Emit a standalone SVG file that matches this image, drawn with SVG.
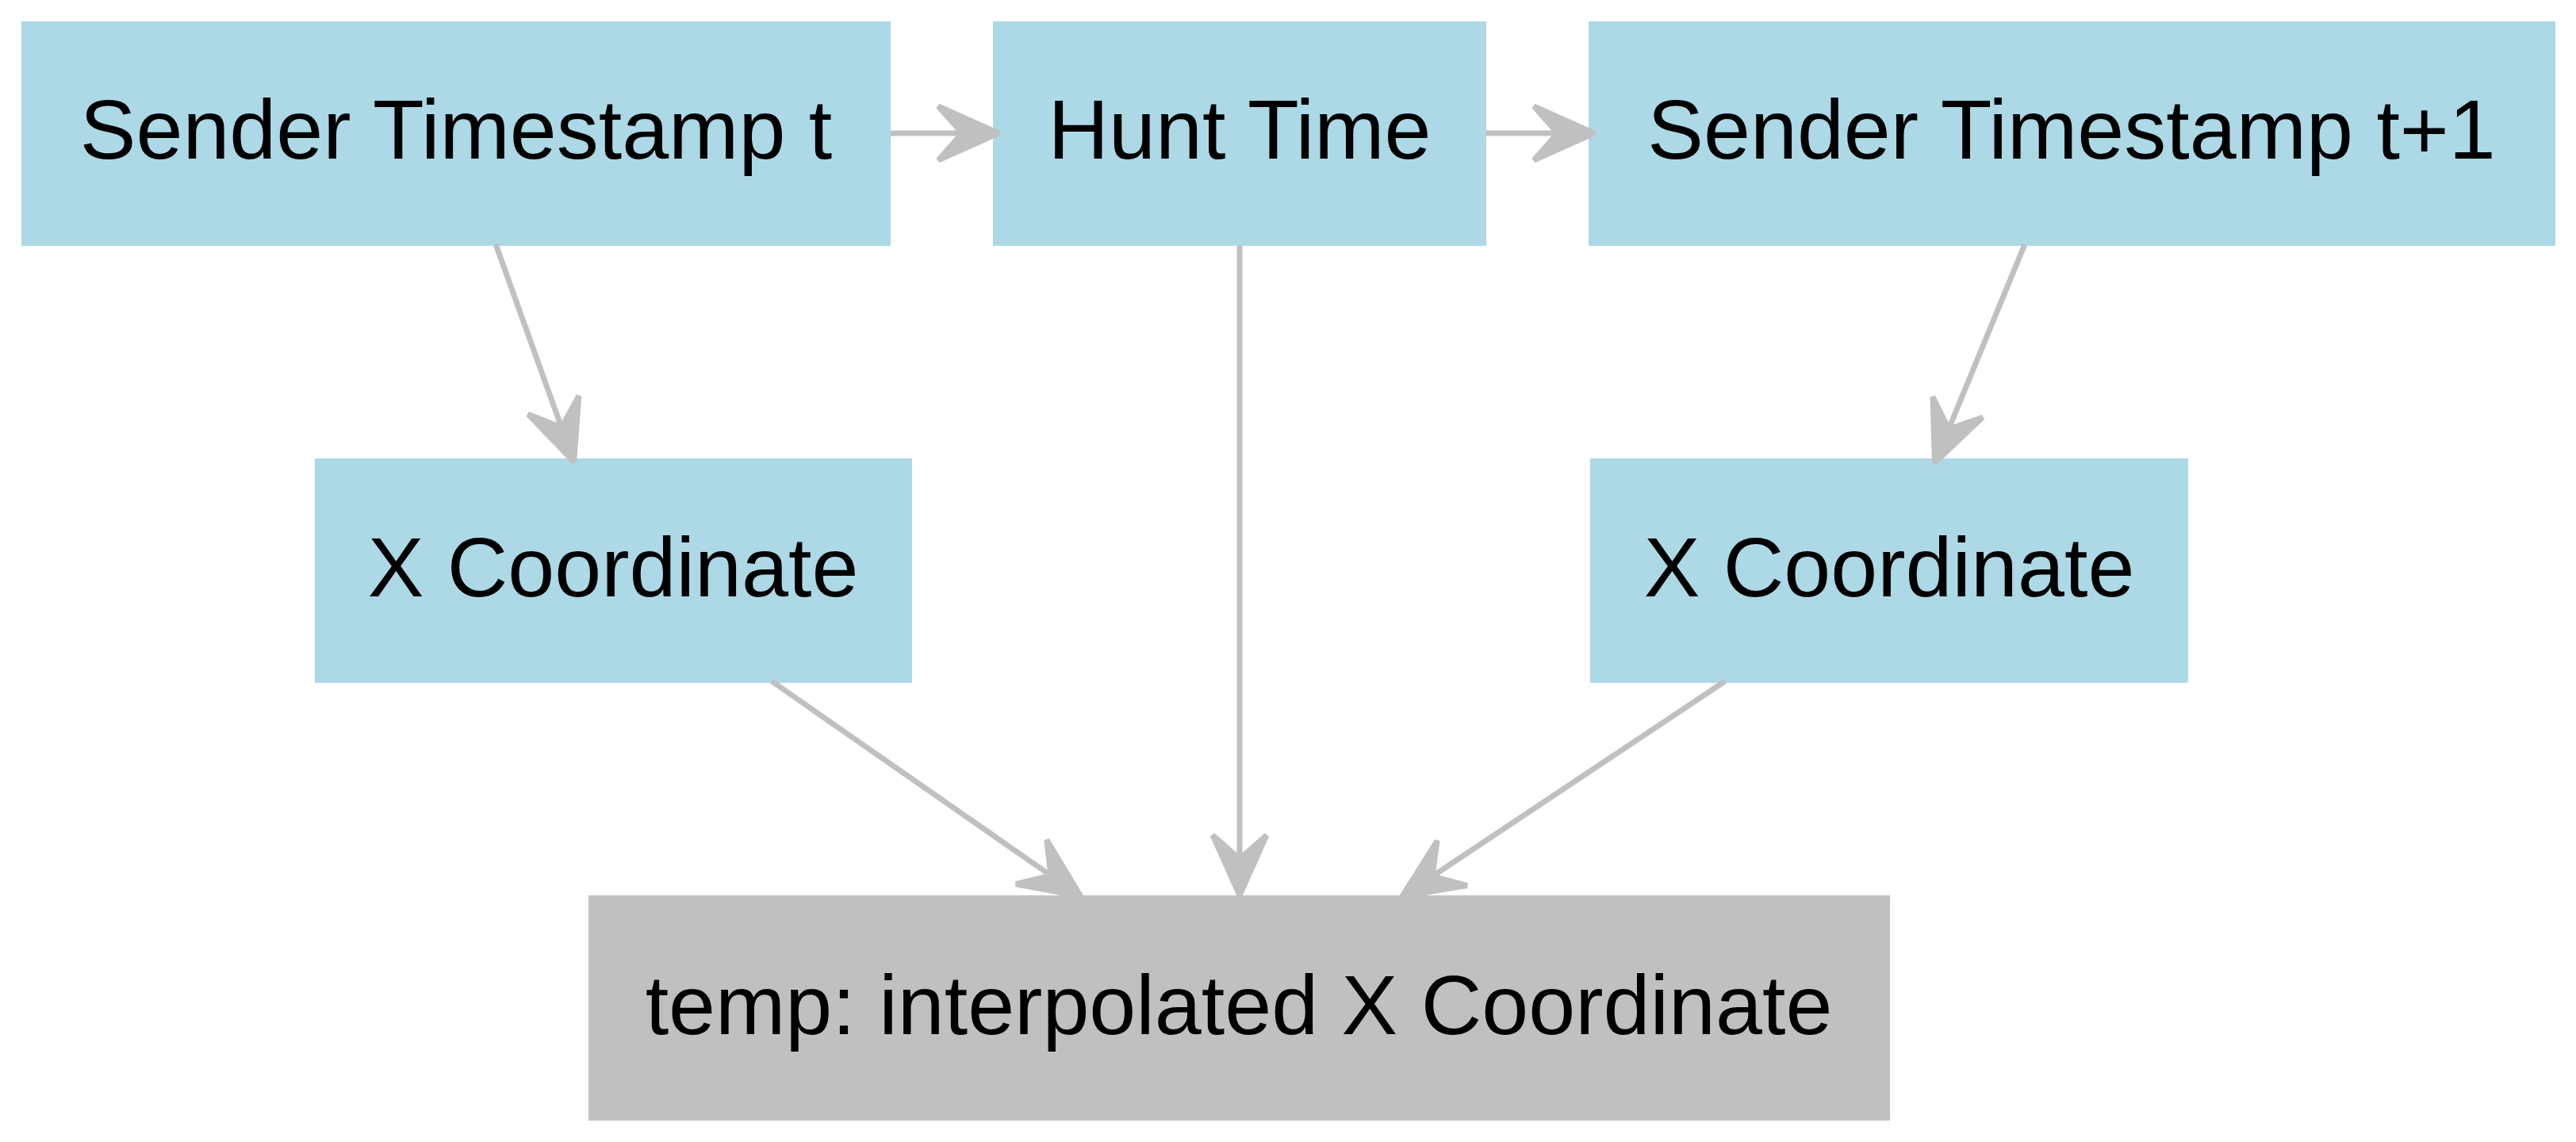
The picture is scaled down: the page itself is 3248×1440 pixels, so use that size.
<svg xmlns="http://www.w3.org/2000/svg" width="3248" height="1440" viewBox="0 0 3248 1440">
  <style>
    .blue { fill: #ADD8E6; }
    .gray { fill: #C0C0C0; }
    .lbl { font-family: "Liberation Sans", Arial, Helvetica, sans-serif; font-size: 106px; fill: #000000; text-anchor: middle; }
    .edge { stroke: #C0C0C0; stroke-width: 7; fill: none; }
  </style>
  <defs>
    <marker id="vee" markerUnits="userSpaceOnUse" viewBox="-40 -45 100 90" refX="0" refY="0" markerWidth="100" markerHeight="90" orient="auto" overflow="visible">
      <path d="M46,0 L-30,-34 L0,0 L-30,34 Z" fill="#C0C0C0" stroke="#C0C0C0" stroke-width="7" stroke-linejoin="bevel"/>
    </marker>
  </defs>
  <rect width="3248" height="1440" fill="#FFFFFF"/>
  <g id="node-sender-t">
    <rect class="blue" x="27" y="27" width="1096" height="283"/>
    <text class="lbl" x="575" y="200">Sender Timestamp t</text>
  </g>
  <g id="node-hunt-time">
    <rect class="blue" x="1252" y="27" width="622" height="283"/>
    <text class="lbl" x="1563" y="200">Hunt Time</text>
  </g>
  <g id="node-sender-t1">
    <rect class="blue" x="2003" y="27" width="1219" height="283"/>
    <text class="lbl" x="2612" y="200">Sender Timestamp t+1</text>
  </g>
  <g id="node-x-left">
    <rect class="blue" x="397" y="578" width="753" height="283"/>
    <text class="lbl" x="773" y="752">X Coordinate</text>
  </g>
  <g id="node-x-right">
    <rect class="blue" x="2005" y="578" width="754" height="283"/>
    <text class="lbl" x="2382" y="752">X Coordinate</text>
  </g>
  <g id="node-temp">
    <rect class="gray" x="742" y="1129" width="1641" height="284"/>
    <text class="lbl" x="1562" y="1304">temp: interpolated X Coordinate</text>
  </g>
  <g id="connectors">
    <line class="edge" x1="1123" y1="168" x2="1213" y2="168" marker-end="url(#vee)"/>
    <line class="edge" x1="1874" y1="168" x2="1964" y2="168" marker-end="url(#vee)"/>
    <line class="edge" x1="625" y1="308" x2="708" y2="539" marker-end="url(#vee)"/>
    <line class="edge" x1="2553" y1="308" x2="2457" y2="541" marker-end="url(#vee)"/>
    <line class="edge" x1="1563" y1="310" x2="1563" y2="1083" marker-end="url(#vee)"/>
    <line class="edge" x1="973" y1="859" x2="1325" y2="1104" marker-end="url(#vee)"/>
    <line class="edge" x1="2175" y1="859" x2="1806" y2="1105" marker-end="url(#vee)"/>
  </g>
</svg>
